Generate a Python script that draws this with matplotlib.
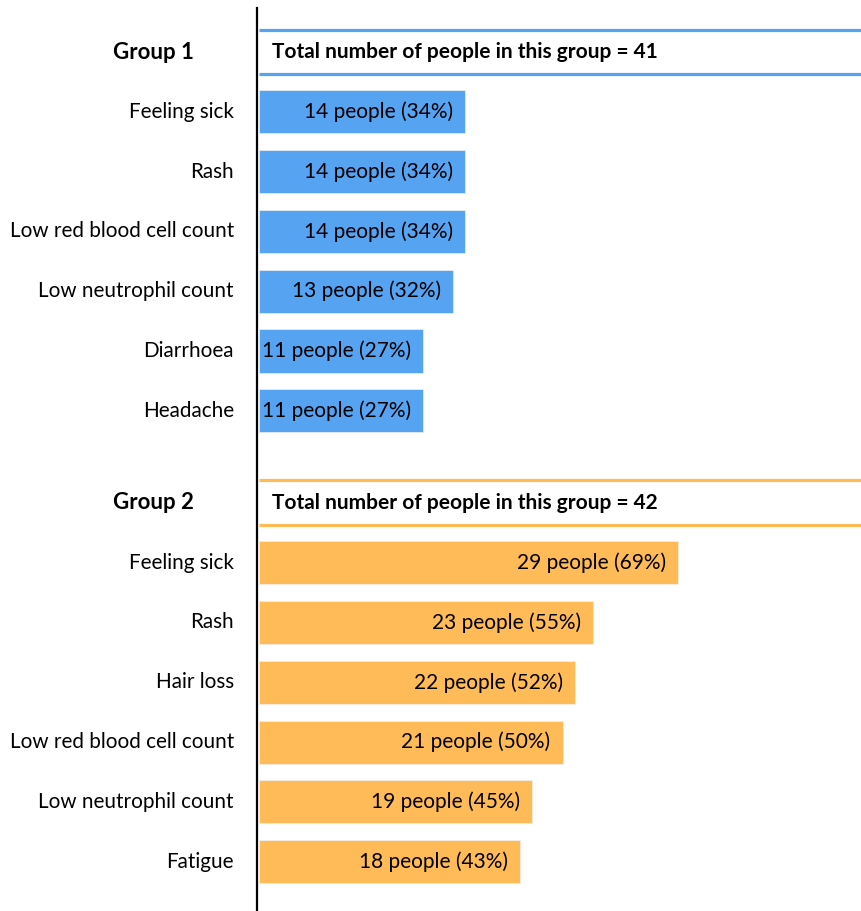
import matplotlib
matplotlib.use("Agg")
import matplotlib.pyplot as plt

plt.rcParams['font.family'] = ['Lato', 'DejaVu Sans']

# data
group_names = ["Group 1", "Group 2"]
group_totals = [41, 42]
g1_labels = ["Feeling sick", "Rash", "Low red blood cell count",
             "Low neutrophil count", "Diarrhoea", "Headache"]
g1_counts = [14, 14, 14, 13, 11, 11]
g1_pct = [34, 34, 34, 32, 27, 27]
g2_labels = ["Feeling sick", "Rash", "Hair loss", "Low red blood cell count",
             "Low neutrophil count", "Fatigue"]
g2_counts = [29, 23, 22, 21, 19, 18]
g2_pct = [69, 55, 52, 50, 45, 43]

blue = "#55a3f1"
orange = "#ffbb57"

W, H = 862, 911
fig = plt.figure(figsize=(W / 100, H / 100), dpi=100)
x0 = 259
ax = fig.add_axes([x0 / W, 0, 1 - x0 / W, 1])
pxu = 6.07  # pixels per percent
ax.set_xlim(0, (W - x0) / pxu)

row_px = 59.8
top_px = 52
ax.set_ylim((H - top_px) / row_px, -top_px / row_px)
ax.axis("off")

group2_start = 7.54
groups = [
    (0.0, g1_labels, g1_counts, g1_pct, blue),
    (group2_start, g2_labels, g2_counts, g2_pct, orange),
]

lab_x = -(x0 - 234) / pxu
grp_x = -(x0 - 153) / pxu

for gi, (start, labels, counts, pct, col) in enumerate(groups):
    # header
    ax.text(grp_x, start, group_names[gi], ha="center", va="center",
            fontsize=16, fontweight="bold", clip_on=False)
    for dy in (-0.375, 0.375):
        ax.plot([0, 200], [start + dy, start + dy], color=col, lw=2.3,
                solid_capstyle="butt")
    ax.text(13 / pxu, start, "Total number of people in this group = %d" % group_totals[gi],
            ha="left", va="center", fontsize=15, fontweight="bold")
    ys = [start + 1 + i for i in range(len(labels))]
    ax.barh(ys, pct, height=0.72, color=col, edgecolor="#f0f0f0", lw=0.5)
    for y, lab, c, p in zip(ys, labels, counts, pct):
        ax.text(lab_x, y, lab, ha="right", va="center", fontsize=14.9, clip_on=False)
        ax.text(p - 12 / pxu, y, "%d people (%d%%)" % (c, p), ha="right",
                va="center", fontsize=15)

ax.plot([-1.5 / pxu, -1.5 / pxu], [(8 - top_px) / row_px, 20], color="black",
        lw=1.6, clip_on=False)

fig.savefig("out.png", dpi=100)
